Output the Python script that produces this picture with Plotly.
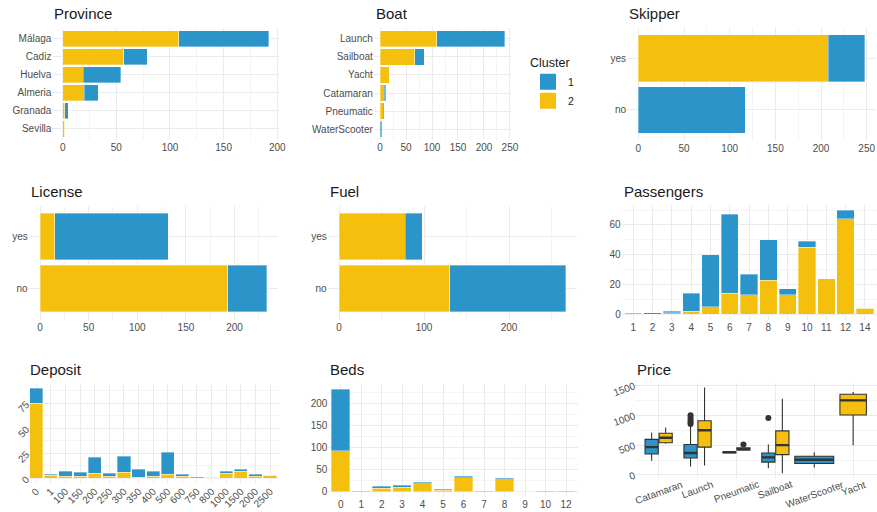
import plotly.graph_objects as go

W, H = 877, 512
BLUE = "#2B94C9"
YELLOW = "#F4BF0D"
GRID = "#EBEBEB"
MINOR = "#F4F4F4"
TICKC = "#4D4D4D"
FONT = "Liberation Sans"

# ---------------- data ----------------
province = ["Málaga", "Cadiz", "Huelva", "Almeria", "Granada", "Sevilla"]
province_c1 = [84, 22, 35, 13, 3, 0]
province_c2 = [108, 57, 19, 20, 2, 2]

boat = ["Launch", "Sailboat", "Yacht", "Catamaran", "Pneumatic", "WaterScooter"]
boat_c1 = [131, 18, 0, 3, 2, 3]
boat_c2 = [109, 67, 18, 8, 6, 0]

yesno = ["yes", "no"]
skipper_c1 = [40, 117]
skipper_c2 = [208, 0]
license_c1 = [117, 40]
license_c2 = [15, 193]
fuel_c1 = [20, 137]
fuel_c2 = [78, 130]

passengers = ["1", "2", "3", "4", "5", "6", "7", "8", "9", "10", "11", "12", "14"]
passengers_c1 = [0, 1, 1, 12, 35, 53, 14, 27, 4, 4, 0, 6, 0]
passengers_c2 = [1, 0, 1, 2, 5, 14, 13, 23, 13, 45, 24, 64, 4]

deposit = ["0", "1", "100", "150", "200", "250", "300", "350", "400", "500",
           "600", "750", "800", "1000", "1500", "2000", "2500"]
deposit_c1 = [15, 1, 5, 4, 16, 3, 16, 8, 5, 22, 2, 1, 0, 2, 2, 2, 0]
deposit_c2 = [75, 3, 2, 2, 5, 2, 6, 1, 2, 4, 2, 0, 1, 5, 7, 2, 3]

beds = ["0", "1", "2", "3", "4", "5", "6", "7", "8", "9", "10", "12"]
beds_c1 = [139, 0, 4, 4, 2, 2, 4, 0, 2, 0, 0, 0]
beds_c2 = [93, 2, 8, 10, 20, 3, 31, 2, 29, 1, 2, 2]

price_boats = ["Catamaran", "Launch", "Pneumatic", "Sailboat", "WaterScooter", "Yacht"]
price_c1_low = [239, 142, 370, 114, 125, None]
price_c1_q1 = [352, 284, 375, 216, 193, None]
price_c1_med = [466, 369, 380, 295, 256, None]
price_c1_q3 = [597, 511, 385, 369, 313, None]
price_c1_high = [710, 820, 390, 511, 381, None]
price_c2_low = [523, 159, 410, 28, None, 500]
price_c2_q1 = [540, 466, 420, 341, None, 1006]
price_c2_med = [625, 750, 432, 500, None, 1250]
price_c2_q3 = [699, 909, 455, 739, None, 1352]
price_c2_high = [795, 1466, 460, 1278, None, 1392]
price_c1_out_boat = ["Launch", "Launch", "Launch", "Launch", "Launch", "Sailboat"]
price_c1_out_val = [855, 885, 920, 960, 1000, 955]
price_c2_out_boat = ["Pneumatic"]
price_c2_out_val = [511]

# ---------------- layout helpers ----------------
# pixel boxes: left, right, top, bottom
boxes = {
    1: (52.4, 279, 28, 139.7),
    2: (373.8, 511, 28, 140),
    3: (627, 876.2, 27.2, 141),
    4: (28.7, 278, 205.5, 319.5),
    5: (327.7, 577.3, 205.5, 319.5),
    6: (621.7, 876.5, 204.8, 319.5),
    7: (27.5, 278.8, 383.8, 482.8),
    8: (328.4, 578.3, 384, 496.8),
    9: (635.3, 876.5, 383.2, 477.6),
}
titles = {1: "Province", 2: "Boat", 3: "Skipper", 4: "License", 5: "Fuel",
          6: "Passengers", 7: "Deposit", 8: "Beds", 9: "Price"}
title_y = {1: 13.5, 2: 13.5, 3: 13.5, 4: 191, 5: 191, 6: 191, 7: 369.5, 8: 369.5, 9: 369.5}

fig = go.Figure()
layout = dict(
    width=W, height=H, margin=dict(l=0, r=0, t=0, b=0, autoexpand=False),
    paper_bgcolor="white", plot_bgcolor="white",
    barmode="stack", bargap=0.1,
    font=dict(family=FONT, size=10, color=TICKC),
    annotations=[],
    legend=dict(x=528 / W, y=1 - 51 / H, xanchor="left", yanchor="top",
                traceorder="normal",
                title=dict(text="Cluster", font=dict(size=12.5, color="#1A1A1A")),
                font=dict(size=10.5, color="#1A1A1A"), tracegroupgap=0,
                itemwidth=30, bgcolor="rgba(0,0,0,0)"),
)


def ax_names(i):
    s = "" if i == 1 else str(i)
    return "x" + s, "y" + s, "xaxis" + s, "yaxis" + s


def num_axis(rng, dtick, other):
    return dict(range=rng, dtick=dtick, tick0=0, showgrid=True, gridcolor=GRID, gridwidth=1,
                minor=dict(showgrid=True, gridcolor=MINOR, gridwidth=0.6, dtick=dtick / 2, tick0=0),
                zeroline=False, showline=False, ticks="", tickfont=dict(size=10, color=TICKC),
                anchor=other, fixedrange=True, automargin=False)


def cat_axis(cats, rng, other):
    return dict(type="category", categoryorder="array", categoryarray=cats,
                range=rng, showgrid=True, gridcolor=GRID, gridwidth=1, zeroline=False,
                showline=False, ticks="", tickfont=dict(size=10, color=TICKC),
                anchor=other, fixedrange=True, automargin=False)


def padded(total_max):
    return [-0.05 * total_max, 1.05 * total_max]


BAR_LINE = dict(color="rgba(255,255,255,0.7)", width=0.5)


def add_hbar(i, cats, c1, c2, dtick):
    xa, ya, xk, yk = ax_names(i)
    fig.add_trace(go.Bar(y=cats, x=c2, orientation="h", marker=dict(color=YELLOW, line=BAR_LINE),
                         xaxis=xa, yaxis=ya, showlegend=False, name="2"))
    fig.add_trace(go.Bar(y=cats, x=c1, orientation="h", marker=dict(color=BLUE, line=BAR_LINE),
                         xaxis=xa, yaxis=ya, showlegend=False, name="1"))
    tot = max(a + b for a, b in zip(c1, c2))
    l, r, t, b = boxes[i]
    layout[xk] = num_axis(padded(tot), dtick, ya)
    layout[xk]["domain"] = [l / W, r / W]
    n = len(cats)
    layout[yk] = cat_axis(cats, [n - 1 + 0.6, -0.6], xa)
    layout[yk]["domain"] = [1 - b / H, 1 - t / H]


def add_vbar(i, cats, c1, c2, dtick, xangle=0, yangle=0):
    xa, ya, xk, yk = ax_names(i)
    fig.add_trace(go.Bar(x=cats, y=c2, marker=dict(color=YELLOW, line=BAR_LINE),
                         xaxis=xa, yaxis=ya, showlegend=False, name="2"))
    fig.add_trace(go.Bar(x=cats, y=c1, marker=dict(color=BLUE, line=BAR_LINE),
                         xaxis=xa, yaxis=ya, showlegend=False, name="1"))
    tot = max(a + b for a, b in zip(c1, c2))
    l, r, t, b = boxes[i]
    n = len(cats)
    layout[xk] = cat_axis(cats, [-0.6, n - 1 + 0.6], ya)
    layout[xk]["domain"] = [l / W, r / W]
    layout[xk]["tickangle"] = xangle
    layout[yk] = num_axis(padded(tot), dtick, xa)
    layout[yk]["domain"] = [1 - b / H, 1 - t / H]
    layout[yk]["tickangle"] = yangle


add_hbar(1, province, province_c1, province_c2, 50)
add_hbar(2, boat, boat_c1, boat_c2, 50)
add_hbar(3, yesno, skipper_c1, skipper_c2, 50)
add_hbar(4, yesno, license_c1, license_c2, 50)
add_hbar(5, yesno, fuel_c1, fuel_c2, 100)
add_vbar(6, passengers, passengers_c1, passengers_c2, 20)
add_vbar(7, deposit, deposit_c1, deposit_c2, 25, xangle=-45, yangle=-45)
add_vbar(8, beds, beds_c1, beds_c2, 50)

# ---------------- price boxplots ----------------
xa, ya, xk, yk = ax_names(9)
pos = {b: k for k, b in enumerate(price_boats)}
clusters = [
    (BLUE, price_c1_low, price_c1_q1, price_c1_med, price_c1_q3, price_c1_high),
    (YELLOW, price_c2_low, price_c2_q1, price_c2_med, price_c2_q3, price_c2_high),
]
present = [[c[1][k] is not None for c in clusters] for k in range(len(price_boats))]
# single-box styling (width, offset) for categories with only one cluster
single_style = {"WaterScooter": (1.0, 0.0), "Yacht": (0.68, 0.0)}
all_vals = []
for ci, (col, lo, q1, md, q3, hi) in enumerate(clusters):
    for k, b in enumerate(price_boats):
        if lo[k] is None:
            continue
        both = all(present[k])
        if both:
            xc = k + (-0.18 if ci == 0 else 0.18)
            w = 0.34
        else:
            w, off = single_style.get(b, (0.68, 0.0))
            xc = k + off
        all_vals += [lo[k], hi[k]]
        fig.add_trace(go.Box(x=[xc], lowerfence=[lo[k]], q1=[q1[k]], median=[md[k]], q3=[q3[k]],
                             upperfence=[hi[k]], width=w, fillcolor=col,
                             line=dict(color="#333333", width=1.1), boxpoints=False,
                             whiskerwidth=0, xaxis=xa, yaxis=ya, showlegend=False, name=str(ci + 1)))
        fig.add_trace(go.Scatter(x=[xc - w / 2, xc + w / 2], y=[md[k], md[k]], mode="lines",
                                 line=dict(color="#333333", width=2.4), xaxis=xa, yaxis=ya,
                                 showlegend=False, hoverinfo="skip"))
for ci, (ob, ov) in enumerate([(price_c1_out_boat, price_c1_out_val), (price_c2_out_boat, price_c2_out_val)]):
    xs = []
    for b in ob:
        k = pos[b]
        xs.append(k + (-0.18 if ci == 0 else 0.18) if all(present[k]) else k)
    all_vals += ov
    fig.add_trace(go.Scatter(x=xs, y=ov, mode="markers", marker=dict(color="#333333", size=6),
                             xaxis=xa, yaxis=ya, showlegend=False))
l, r, t, b = boxes[9]
vmax, vmin = max(all_vals), min(all_vals)
span = vmax - vmin
layout[xk] = dict(domain=[l / W, r / W], range=[-0.6, len(price_boats) - 1 + 0.6],
                  tickmode="array", tickvals=list(range(len(price_boats))), ticktext=price_boats,
                  showticklabels=False, showgrid=True, gridcolor=GRID, zeroline=False, ticks="",
                  anchor=ya, fixedrange=True, automargin=False)
layout[yk] = num_axis([vmin - 0.05 * span, vmax + 0.05 * span], 500, xa)
layout[yk]["domain"] = [1 - b / H, 1 - t / H]
layout[yk]["tickangle"] = -20
# x tick labels centred under each category, rotated like the original
for k, name in enumerate(price_boats):
    layout["annotations"].append(dict(text=name, x=k, xref=xa, y=1 - 476 / H, yref="paper",
                                      xanchor="center", yanchor="top", textangle=-20,
                                      showarrow=False, font=dict(size=10, color=TICKC, family=FONT)))

# ---------------- legend keys ----------------
for name, col in [("1", BLUE), ("2", YELLOW)]:
    fig.add_trace(go.Scatter(x=[None], y=[None], mode="markers", name=name,
                             marker=dict(symbol="square", size=18, color=col),
                             xaxis="x", yaxis="y", showlegend=True))

# ---------------- titles ----------------
for i, txt in titles.items():
    l, r, t, b = boxes[i]
    layout["annotations"].append(dict(text=txt, x=l / W, y=1 - title_y[i] / H, xref="paper", yref="paper",
                                      xanchor="left", yanchor="middle", showarrow=False,
                                      font=dict(size=15, color="#1A1A1A", family=FONT)))

fig.update_layout(**layout)
fig.write_html("out.html", config={"displayModeBar": False},
               post_script="document.body.style.margin='0';document.body.style.overflow='hidden';")
